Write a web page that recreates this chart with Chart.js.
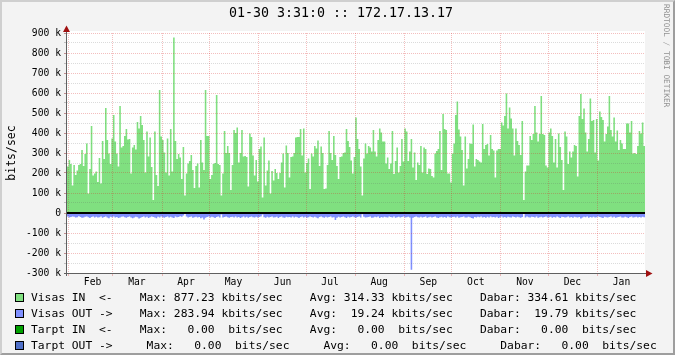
<!DOCTYPE html>
<html><head><meta charset="utf-8">
<script src="https://cdn.jsdelivr.net/npm/chart.js@4.4.0/dist/chart.umd.min.js"></script>
<style>
html,body{margin:0;padding:0;background:#fff;}
#wrap{position:relative;width:675px;height:355px;background:#F3F3F3;overflow:hidden;}
#frame{position:absolute;left:0;top:0;width:675px;height:355px;box-sizing:border-box;border-style:solid;border-width:2px;border-color:#CFCFCF #9E9E9E #9E9E9E #CFCFCF;z-index:5;pointer-events:none;}
canvas{position:absolute;left:0;top:0;}
.lg{position:absolute;left:31px;font-family:'DejaVu Sans Mono',monospace;font-size:11.3px;line-height:16px;white-space:pre;color:#000;}
.sq{position:absolute;left:15px;width:9px;height:9px;box-sizing:border-box;border:1px solid #000;}
#wm{position:absolute;left:662px;top:4px;writing-mode:vertical-rl;font-family:'DejaVu Sans Mono',monospace;font-size:7.8px;color:#909090;white-space:pre;}
</style></head>
<body>
<div id="wrap">
<canvas id="c" width="675" height="355"></canvas>
<div id="wm">RRDTOOL / TOBI OETIKER</div>
<div class="sq" style="top:293px;background:#80E080"></div>
<div class="sq" style="top:309px;background:#8090FF"></div>
<div class="sq" style="top:325px;background:#00A000"></div>
<div class="sq" style="top:341px;background:#5070C8"></div>
<div class="lg" style="top:290px">Visas IN  &lt;-    Max: 877.23 kbits/sec    Avg: 314.33 kbits/sec    Dabar: 334.61 kbits/sec</div>
<div class="lg" style="top:306px">Visas OUT -&gt;    Max: 283.94 kbits/sec    Avg:  19.24 kbits/sec    Dabar:  19.79 kbits/sec</div>
<div class="lg" style="top:322px">Tarpt IN  &lt;-    Max:   0.00  bits/sec    Avg:   0.00  bits/sec    Dabar:   0.00  bits/sec</div>
<div class="lg" style="top:338px">Tarpt OUT -&gt;     Max:   0.00  bits/sec     Avg:   0.00  bits/sec     Dabar:   0.00  bits/sec</div>
<div id="frame"></div>
</div>
<script>
// ---- data (kbits/sec, one value per day starting Jan 31) ----
const monthLabels = ['Feb','Mar','Apr','May','Jun','Jul','Aug','Sep','Oct','Nov','Dec','Jan'];
const monthStartDays = [1,29,60,90,121,151,182,213,243,274,304,335];

const visasIn = [
232,265,245,138,240,190,212,240,245,315,
235,295,348,98,220,435,187,198,207,155,
275,148,360,270,525,365,298,245,373,490,
357,298,232,535,327,335,385,420,368,370,
198,327,340,318,455,423,485,440,365,202,
407,282,377,230,65,407,190,135,615,382,
365,302,203,372,187,420,208,877.23,360,270,
295,278,170,330,87,198,248,260,290,215,
125,235,248,128,365,252,215,615,385,385,
170,190,245,250,590,245,240,87,198,410,
300,335,300,115,240,415,400,428,252,300,
415,282,285,280,132,398,380,287,187,265,
157,320,332,77,377,137,212,262,98,210,
162,220,200,170,200,253,298,128,337,300,
178,280,282,300,377,380,380,420,287,423,
203,250,273,120,298,282,335,323,362,235,
332,300,120,123,240,410,300,265,385,290,
235,170,280,282,300,303,420,360,330,262,
198,280,478,370,320,232,87,
273,348,298,335,327,307,415,307,282,365,423,402,357,357,248,278,220,248,410,195,260,
328,203,235,370,257,423,407,260,307,370,227,302,165,253,240,335,202,328,320,195,223,220,185,177,298,310,
320,410,215,495,420,415,198,198,153,298,348,490,557,418,382,315,137,382,223,270,348,345,443,232,270,265,
257,253,445,320,340,345,287,390,320,312,177,312,320,320,452,437,485,598,423,528,473,423,287,423,360,340,
290,460,65,207,237,237,385,365,395,535,403,357,395,585,395,390,237,228,402,423,385,252,370,227,398,330,
265,115,407,382,245,307,278,307,340,335,182,485,595,470,523,402,307,370,573,460,465,303,470,262,507,480,
465,357,395,432,585,415,382,478,357,412,315,365,348,320,320,448,448,403,460,298,300,
295,335,410,398,453,335
];

const visasOut = [
18,22,20,17,19,23,21,16,20,24,22,19,17,21,25,20,18,22,19,23,
21,18,24,20,17,22,26,19,21,18,23,20,25,22,19,17,21,24,20,18,
22,26,23,19,21,27,24,20,18,22,19,25,21,17,20,23,26,19,22,18,
21,24,20,17,23,19,22,25,18,21,20,16,19,12,5,17,22,20,18,24,
21,19,23,20,26,22,33,24,20,18,22,19,21,25,20,17,23,8,22,20,
18,21,24,20,19,22,17,23,20,25,21,18,22,19,24,20,17,21,23,19,
22,20,18,8,21,24,19,22,20,17,23,21,19,25,20,18,22,24,19,21,
20,23,18,22,19,21,25,20,17,22,19,24,21,18,20,23,19,22,26,20,
18,21,24,19,22,20,17,23,21,35,24,19,22,20,18,21,25,19,22,20,
17,21,24,20,18,22,6,19,23,21,20,18,24,22,19,21,17,25,20,22,
19,21,23,18,20,22,17,24,21,19,22,20,18,23,21,19,22,283.94,24,20,
18,21,23,19,22,20,17,24,21,19,23,20,18,22,25,21,19,22,20,24,
18,21,23,20,19,22,17,24,21,20,18,23,22,19,21,25,28,20,22,19,
21,18,23,20,24,19,22,17,21,20,23,19,25,21,18,22,20,24,19,21,
22,18,20,23,19,21,24,20,3,22,18,21,23,19,20,22,17,24,21,19,
22,20,18,23,21,19,24,20,22,18,21,25,19,20,23,21,18,22,20,24,
19,21,23,20,28,22,19,21,18,24,20,22,19,23,21,18,20,22,25,19,
21,23,20,18,22,19,24,21,20,18,23,22,19,21,25,20,18,22,21,19,
23,20,22,19,21
];

function stepPoints(arr, sign) {
  const pts = arr.map((v, i) => ({x: i, y: sign * v}));
  pts.push({x: arr.length, y: sign * arr[arr.length - 1]});
  return pts;
}

const MAJOR = 'rgba(215,40,40,0.30)';
const MINOR = 'rgba(90,90,90,0.22)';
const MONO = "'DejaVu Sans Mono', monospace";

const bgPlugin = {
  id: 'bg',
  beforeDraw(chart) {
    const {ctx, chartArea: a} = chart;
    ctx.save();
    ctx.fillStyle = '#FFFFFF';
    ctx.fillRect(a.left, a.top - 2, a.right - a.left, a.bottom - a.top + 2);
    ctx.restore();
  }
};

const axisPlugin = {
  id: 'rrdAxes',
  afterDraw(chart) {
    const {ctx, chartArea: a} = chart;
    const y0 = chart.scales.y.getPixelForValue(0);
    ctx.save();
    ctx.fillStyle = '#000';
    ctx.fillRect(a.left, y0 - 1, a.right - a.left, 2);
    ctx.fillStyle = '#606060';
    ctx.fillRect(a.left - 1, 30, 1, a.bottom - 30 + 3);
    ctx.fillRect(a.left - 3, a.bottom, a.right - a.left + 5, 1);
    ctx.fillStyle = '#A01010';
    ctx.beginPath();
    ctx.moveTo(a.left - 4, 32); ctx.lineTo(a.left + 3, 32); ctx.lineTo(a.left - 0.5, 25.5); ctx.closePath(); ctx.fill();
    ctx.beginPath();
    ctx.moveTo(a.right + 1, a.bottom - 3); ctx.lineTo(a.right + 1, a.bottom + 4); ctx.lineTo(a.right + 7.5, a.bottom + 0.5); ctx.closePath(); ctx.fill();
    ctx.restore();
  }
};

new Chart(document.getElementById('c'), {
  type: 'line',
  data: {
    datasets: [
      {label: 'Visas IN', data: stepPoints(visasIn, 1), stepped: true, fill: 'origin',
       backgroundColor: '#80E080', borderWidth: 0, pointRadius: 0},
      {label: 'Visas OUT', data: stepPoints(visasOut, -1), stepped: true, fill: 'origin',
       backgroundColor: '#8090FF', borderWidth: 0, pointRadius: 0}
    ]
  },
  options: {
    responsive: false, animation: false, devicePixelRatio: 1,
    layout: {padding: {left: 7, right: 0, top: 0, bottom: 66}},
    plugins: {
      legend: {display: false}, tooltip: {enabled: false},
      title: {display: true, text: '01-30 3:31:0 :: 172.17.13.17', color: '#000',
        font: {family: MONO, size: 13.3, weight: 'normal', lineHeight: 1.2},
        padding: {top: 6, bottom: 11.04}}
    },
    scales: {
      x: {
        type: 'linear', min: 0, max: 365,
        afterBuildTicks: s => { s.ticks = monthStartDays.map(v => ({value: v})); },
        afterFit: s => { s.height = 16; },
        ticks: {autoSkip: false, maxRotation: 0, minRotation: 0, labelOffset: 24, padding: 1,
          color: '#000', font: {family: MONO, size: 9.7},
          callback: (v, i) => monthLabels[i]},
        grid: {color: MAJOR, lineWidth: 1, z: 1, drawTicks: true, tickLength: 3, tickColor: MAJOR},
        border: {display: false, dash: [1, 1]}
      },
      y: {
        type: 'linear', min: -300, max: 900,
        afterFit: s => { s.width = 60; },
        ticks: {stepSize: 50, autoSkip: false, padding: 3, color: '#000',
          font: {family: MONO, size: 9.7},
          callback: v => (v % 100 !== 0 ? '' : (v === 0 ? '0' : v + ' k'))},
        grid: {color: c => (c.tick && c.tick.value % 100 === 0 ? MAJOR : MINOR), z: 1,
          tickLength: 3, tickColor: c => (c.tick && c.tick.value % 100 === 0 ? '#C09090' : '#C0C0C0')},
        border: {display: false, dash: [1, 1]},
        title: {display: true, text: 'bits/sec', color: '#000',
          font: {family: MONO, size: 11.5, lineHeight: 0.8}, padding: 0}
      },
      r: {
        type: 'linear', position: 'right', display: true,
        afterFit: s => { s.width = 30; },
        ticks: {display: false}, grid: {display: false}, border: {display: false}
      }
    }
  },
  plugins: [bgPlugin, axisPlugin]
});
</script>
</body></html>
